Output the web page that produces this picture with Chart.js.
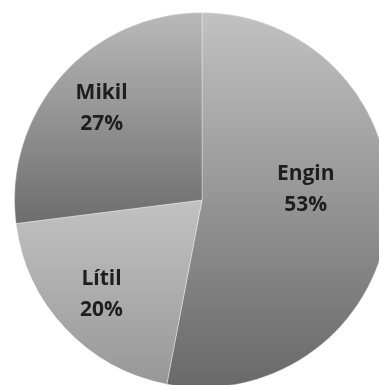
<!DOCTYPE html>
<html>
<head>
<meta charset="utf-8">
<script src="https://cdn.jsdelivr.net/npm/chart.js@4/dist/chart.umd.min.js"></script>
<style>
  html, body { margin: 0; padding: 0; background: #ffffff; overflow: hidden; }
  body { width: 379px; height: 385px; position: relative; }
  #wrap { position: absolute; left: 0; top: 0; width: 404px; height: 400px; }
</style>
</head>
<body>
<div id="wrap"><canvas id="pie"></canvas></div>
<script>
// Answer categories and their shares (percent), clockwise from the top
const categories = ['Engin', 'Lítil', 'Mikil'];
const shares = [53, 20, 27];

// Vertical shading per slice: [top colour, bottom colour, top y fraction, bottom y fraction of the pie box]
const shading = [
  ['#c2c2c2', '#686868', 0.0, 1.0],
  ['#c6c6c6', '#979797', 0.45, 1.0],
  ['#b9b9b9', '#6c6c6c', 0.0, 0.57]
];

// Label placement: fraction of the radius and angular shift (degrees) from the slice middle
const labelPlace = [
  { r: 0.556, shift: -11 },
  { r: 0.735, shift: 0 },
  { r: 0.725, shift: 1 }
];

function sliceFill(ctx) {
  const chart = ctx.chart;
  const area = chart.chartArea;
  if (!area) return '#999999';
  const s = shading[ctx.dataIndex];
  const h = area.bottom - area.top;
  const g = chart.ctx.createLinearGradient(0, area.top + s[2] * h, 0, area.top + s[3] * h);
  g.addColorStop(0, s[0]);
  g.addColorStop(1, s[1]);
  return g;
}

const sliceLabels = {
  id: 'sliceLabels',
  afterDatasetsDraw(chart) {
    const ctx = chart.ctx;
    const meta = chart.getDatasetMeta(0);
    ctx.save();
    ctx.font = 'bold 21px "Open Sans", sans-serif';
    ctx.fillStyle = '#1e1e1e';
    ctx.textAlign = 'center';
    ctx.textBaseline = 'middle';
    meta.data.forEach((arc, i) => {
      const p = arc.getProps(['x', 'y', 'startAngle', 'endAngle', 'outerRadius'], true);
      const mid = (p.startAngle + p.endAngle) / 2 + labelPlace[i].shift * Math.PI / 180;
      const rr = p.outerRadius * labelPlace[i].r;
      const cx = p.x + Math.cos(mid) * rr;
      const cy = p.y + Math.sin(mid) * rr;
      ctx.fillText(categories[i], cx, cy - 15.5);
      ctx.fillText(shares[i] + '%', cx, cy + 15.5);
    });
    ctx.restore();
  }
};

new Chart(document.getElementById('pie'), {
  type: 'pie',
  data: {
    labels: categories,
    datasets: [{
      data: shares,
      backgroundColor: sliceFill,
      borderColor: 'rgba(255,255,255,0.35)',
      borderWidth: 1
    }]
  },
  options: {
    responsive: true,
    maintainAspectRatio: false,
    animation: false,
    layout: { padding: 12 },
    plugins: {
      legend: { display: false },
      tooltip: { enabled: false }
    }
  },
  plugins: [sliceLabels]
});
</script>
</body>
</html>
